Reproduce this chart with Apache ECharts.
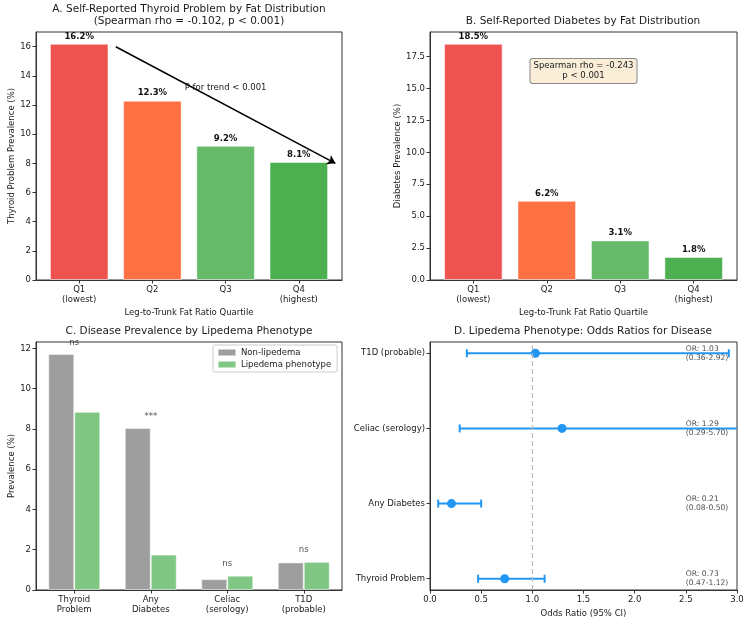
<!DOCTYPE html>
<html>
<head>
<meta charset="utf-8">
<script src="https://cdn.jsdelivr.net/npm/echarts@6/dist/echarts.min.js"></script>
<style>
  html, body { margin: 0; padding: 0; background: #fff; }
  #chart { width: 750px; height: 624px; }
</style>
</head>
<body>
<div id="chart"></div>
<script>
// data
var quartiles = ['Q1\n(lowest)', 'Q2', 'Q3', 'Q4\n(highest)'];
var thyroidByQ = [16.2, 12.3, 9.2, 8.1];
var diabetesByQ = [18.5, 6.2, 3.1, 1.8];
var quartileColors = ['#ef5350', '#ff7043', '#66bb6a', '#4caf50'];

var diseases = ['Thyroid\nProblem', 'Any\nDiabetes', 'Celiac\n(serology)', 'T1D\n(probable)'];
var nonLipedema = [11.73, 8.05, 0.54, 1.37];
var lipedema = [8.85, 1.76, 0.71, 1.40];
var sigLabels = ['ns', '***', 'ns', 'ns'];

var orDiseases = ['Thyroid Problem', 'Any Diabetes', 'Celiac (serology)', 'T1D (probable)'];
var orValues = [0.73, 0.21, 1.29, 1.03];
var ciLow = [0.47, 0.08, 0.29, 0.36];
var ciHigh = [1.12, 0.50, 5.70, 2.92];

var ticksA = [0, 2, 4, 6, 8, 10, 12, 14, 16];
var ticksB = [0, 2.5, 5, 7.5, 10, 12.5, 15, 17.5];
var ticksC = [0, 2, 4, 6, 8, 10, 12];
var ticksD = [0, 0.5, 1, 1.5, 2, 2.5, 3];
var quartilePos = [0, 1, 2, 3];

(function() {
  var font = "'DejaVu Sans', sans-serif";
  var ink = '#1a1a1a';
  var frame = '#333';
  var fs = 8.5;
  var chart = echarts.init(document.getElementById('chart'), null, { renderer: 'canvas' });

  // grid boxes (px)
  var G = [
    { left: 36, top: 32, width: 306, height: 248 },
    { left: 430, top: 32, width: 307, height: 248 },
    { left: 36, top: 342, width: 306, height: 248 },
    { left: 430, top: 342, width: 307, height: 248 }
  ];

  var qMin = -0.59, qMax = 3.59;
  var barW = 0.8 * 306 / (qMax - qMin);

  function frameGrid(g) {
    return Object.assign({ show: true, borderColor: frame, borderWidth: 1, backgroundColor: 'transparent' }, g);
  }

  function lbl(extra) {
    return Object.assign({ color: ink, fontSize: fs, fontFamily: font }, extra || {});
  }

  var axLine = { show: true, onZero: false, lineStyle: { color: frame } };

  function quartileXAxis(idx) {
    return {
      type: 'value', gridIndex: idx, min: qMin, max: qMax,
      name: 'Leg-to-Trunk Fat Ratio Quartile', nameLocation: 'middle', nameGap: 28,
      nameTextStyle: lbl(),
      axisLine: axLine,
      axisTick: { show: true, length: 3.5, lineStyle: { color: frame }, customValues: quartilePos },
      splitLine: { show: false },
      axisLabel: Object.assign(lbl({ margin: 5, lineHeight: 10 }), {
        customValues: quartilePos,
        formatter: function(v) { return quartiles[Math.round(v)]; }
      })
    };
  }

  function valueYAxis(idx, max, ticks, name, gap, digits) {
    return {
      type: 'value', gridIndex: idx, min: 0, max: max,
      name: name, nameLocation: 'middle', nameGap: gap, nameTextStyle: lbl(),
      axisLine: axLine,
      axisTick: { show: true, length: 3.5, lineStyle: { color: frame }, customValues: ticks },
      splitLine: { show: false },
      axisLabel: Object.assign(lbl({ margin: 5 }), {
        customValues: ticks,
        formatter: function(v) { return digits ? v.toFixed(digits) : String(v); }
      })
    };
  }

  var barLabel = {
    show: true, position: 'top', distance: 3,
    fontWeight: 'bold', fontSize: fs, color: '#111', fontFamily: font,
    formatter: function(p) { return p.value[1].toFixed(1) + '%'; }
  };

  var titleStyle = { fontSize: 10.5, fontWeight: 'normal', color: ink, fontFamily: font, lineHeight: 11.5 };

  chart.setOption({
    animation: false,
    textStyle: { fontFamily: font },
    title: [
      { text: 'A. Self-Reported Thyroid Problem by Fat Distribution\n(Spearman rho = -0.102, p < 0.001)', left: 189, top: 4, textAlign: 'center', textStyle: titleStyle, padding: 0 },
      { text: 'B. Self-Reported Diabetes by Fat Distribution', left: 583, top: 16, textAlign: 'center', textStyle: titleStyle, padding: 0 },
      { text: 'C. Disease Prevalence by Lipedema Phenotype', left: 189, top: 326, textAlign: 'center', textStyle: titleStyle, padding: 0 },
      { text: 'D. Lipedema Phenotype: Odds Ratios for Disease', left: 583, top: 326, textAlign: 'center', textStyle: titleStyle, padding: 0 }
    ],
    legend: {
      data: ['Non-lipedema', 'Lipedema phenotype'],
      orient: 'vertical', left: 213, top: 345,
      padding: [3, 6, 3, 4], itemGap: 3, itemWidth: 18, itemHeight: 7,
      icon: 'rect',
      borderColor: '#ccc', borderWidth: 1, borderRadius: 2,
      backgroundColor: 'rgba(255,255,255,0.8)',
      textStyle: lbl()
    },
    graphic: [
      {
        type: 'text', x: 583.5, y: 71,
        style: {
          text: 'Spearman rho = -0.243\np < 0.001',
          align: 'center', verticalAlign: 'middle',
          font: fs + 'px ' + font, fill: ink, lineHeight: 10,
          backgroundColor: '#faeed9', borderColor: '#8a8a8a', borderWidth: 1,
          borderRadius: 2, padding: [2, 3, 2, 3]
        }
      }
    ],
    grid: G.map(frameGrid),
    xAxis: [
      quartileXAxis(0),
      quartileXAxis(1),
      {
        type: 'category', gridIndex: 2, data: diseases,
        axisLine: axLine,
        axisTick: { show: true, alignWithLabel: true, length: 3.5, lineStyle: { color: frame } },
        axisLabel: lbl({ margin: 5, lineHeight: 10, interval: 0 })
      },
      {
        type: 'value', gridIndex: 3, min: 0, max: 3,
        name: 'Odds Ratio (95% CI)', nameLocation: 'middle', nameGap: 19, nameTextStyle: lbl(),
        axisLine: axLine,
        axisTick: { show: true, length: 3.5, lineStyle: { color: frame }, customValues: ticksD },
        splitLine: { show: false },
        axisLabel: Object.assign(lbl({ margin: 5 }), {
          customValues: ticksD,
          formatter: function(v) { return v.toFixed(1); }
        })
      }
    ],
    yAxis: [
      valueYAxis(0, 17.01, ticksA, 'Thyroid Problem Prevalence (%)', 20, 0),
      valueYAxis(1, 19.425, ticksB, 'Diabetes Prevalence (%)', 28, 1),
      valueYAxis(2, 12.32, ticksC, 'Prevalence (%)', 20, 0),
      {
        type: 'value', gridIndex: 3, min: -0.15, max: 3.15,
        axisLine: axLine,
        axisTick: { show: true, length: 3.5, lineStyle: { color: frame }, customValues: quartilePos },
        splitLine: { show: false },
        axisLabel: Object.assign(lbl({ margin: 5 }), {
          customValues: quartilePos,
          formatter: function(v) { return orDiseases[Math.round(v)]; }
        })
      }
    ],
    series: [
      // A
      {
        type: 'bar', xAxisIndex: 0, yAxisIndex: 0, barWidth: barW,
        data: thyroidByQ.map(function(v, i) { return [quartilePos[i], v]; }),
        itemStyle: {
          color: function(p) { return quartileColors[p.dataIndex]; },
          borderColor: 'rgba(255,255,255,0.5)', borderWidth: 1
        },
        label: barLabel,
        markLine: {
          silent: true, animation: false,
          symbol: ['none', 'arrow'], symbolSize: 8,
          label: { show: false },
          lineStyle: { color: '#000', width: 1.5, type: 'solid' },
          data: [[{ coord: [0.5, 16] }, { coord: [3.5, 8] }]]
        },
        markPoint: {
          silent: true, animation: false,
          data: [{
            coord: [2, 13.2], symbol: 'rect', symbolSize: 0,
            label: { show: true, position: 'inside', formatter: 'P for trend < 0.001', color: ink, fontSize: fs, fontFamily: font }
          }]
        }
      },
      // B
      {
        type: 'bar', xAxisIndex: 1, yAxisIndex: 1, barWidth: barW,
        data: diabetesByQ.map(function(v, i) { return [quartilePos[i], v]; }),
        itemStyle: {
          color: function(p) { return quartileColors[p.dataIndex]; },
          borderColor: 'rgba(255,255,255,0.5)', borderWidth: 1
        },
        label: barLabel
      },
      // C
      {
        name: 'Non-lipedema', type: 'bar', xAxisIndex: 2, yAxisIndex: 2,
        barWidth: 26, barGap: '0%', data: nonLipedema,
        itemStyle: { color: '#9e9e9e', borderColor: 'rgba(255,255,255,0.5)', borderWidth: 1 }
      },
      {
        name: 'Lipedema phenotype', type: 'bar', xAxisIndex: 2, yAxisIndex: 2,
        barWidth: 26, barGap: '0%', data: lipedema,
        itemStyle: { color: '#81c784', borderColor: 'rgba(255,255,255,0.5)', borderWidth: 1 }
      },
      {
        type: 'scatter', xAxisIndex: 2, yAxisIndex: 2, symbolSize: 0, silent: true,
        data: sigLabels.map(function(s, i) { return [i, Math.max(nonLipedema[i], lipedema[i]) + 0.3]; }),
        label: {
          show: true, position: 'top', distance: 1, color: ink, fontSize: fs, fontFamily: font,
          formatter: function(p) { return sigLabels[p.dataIndex]; }
        }
      },
      // D
      {
        type: 'custom', xAxisIndex: 3, yAxisIndex: 3, silent: true,
        data: ciLow.map(function(lo, i) { return [lo, ciHigh[i], i]; }),
        encode: { x: [0, 1], y: 2 },
        renderItem: function(params, api) {
          var lo = api.value(0), hi = api.value(1), y = api.value(2);
          var p1 = api.coord([lo, y]);
          var p2 = api.coord([Math.min(hi, 3), y]);
          var cap = 4;
          var st = { stroke: '#2196f3', lineWidth: 2 };
          var kids = [
            { type: 'line', shape: { x1: p1[0], y1: p1[1], x2: p2[0], y2: p2[1] }, style: st },
            { type: 'line', shape: { x1: p1[0], y1: p1[1] - cap, x2: p1[0], y2: p1[1] + cap }, style: st }
          ];
          if (hi <= 3) {
            kids.push({ type: 'line', shape: { x1: p2[0], y1: p2[1] - cap, x2: p2[0], y2: p2[1] + cap }, style: st });
          }
          return { type: 'group', children: kids };
        }
      },
      {
        type: 'scatter', xAxisIndex: 3, yAxisIndex: 3, symbolSize: 9, silent: true,
        itemStyle: { color: '#2196f3', opacity: 1 },
        data: orValues.map(function(v, i) { return [v, i]; }),
        markLine: {
          silent: true, animation: false, symbol: ['none', 'none'],
          label: { show: false },
          lineStyle: { color: '#bbb', width: 1.2, type: [5, 3] },
          data: [{ xAxis: 1 }]
        },
        z: 3
      },
      {
        type: 'scatter', xAxisIndex: 3, yAxisIndex: 3, symbolSize: 0, silent: true,
        data: orValues.map(function(v, i) { return [2.5, i]; }),
        label: {
          show: true, position: 'right', distance: 0, color: ink, fontSize: 7.6, fontFamily: font, lineHeight: 9,
          formatter: function(p) {
            var i = p.dataIndex;
            return 'OR: ' + orValues[i].toFixed(2) + '\n(' + ciLow[i].toFixed(2) + '-' + ciHigh[i].toFixed(2) + ')';
          }
        }
      }
    ]
  });
})();
</script>
</body>
</html>
